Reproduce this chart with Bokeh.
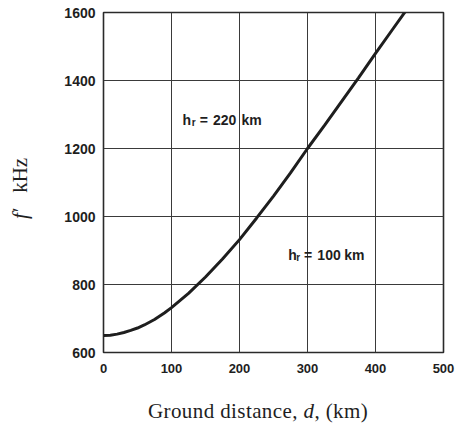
from bokeh.plotting import figure
from bokeh.models import Label, FixedTicker, Range1d, Div
from bokeh.layouts import row, column
from bokeh.embed import file_html
from bokeh.resources import INLINE

# data
distance_km = [0, 10, 20, 30, 40, 50, 60, 75, 90, 100, 125, 150, 175, 200, 225,
               250, 275, 300, 325, 350, 375, 400, 425, 445]
freq_khz = [650, 651, 654, 659, 665, 672, 681, 697, 717, 732, 774, 822, 875, 932,
            995, 1060, 1128, 1200, 1268, 1338, 1408, 1480, 1550, 1606]
x_ticks = [0, 100, 200, 300, 400, 500]
y_ticks = [600, 800, 1000, 1200, 1400, 1600]

INK = "#1e1e1e"

p = figure(width=410, height=395, frame_width=340, frame_height=340,
           min_border_left=58, min_border_right=12, min_border_top=12,
           min_border_bottom=43,
           x_range=Range1d(0, 500), y_range=Range1d(600, 1600),
           output_backend="svg", toolbar_location=None)

p.line(distance_km, freq_khz, line_width=3, line_color=INK)

p.outline_line_color = "#2a2a2a"
p.outline_line_width = 1.6
p.background_fill_color = "white"
p.border_fill_color = "white"

for ax, ticks, size, standoff in ((p.xaxis, x_ticks, "13px", 11), (p.yaxis, y_ticks, "14px", 8)):
    ax.ticker = FixedTicker(ticks=ticks)
    ax.axis_line_color = None
    ax.major_tick_line_color = None
    ax.minor_tick_line_color = None
    ax.major_tick_out = 0
    ax.major_tick_in = 0
    ax.major_label_text_font = "Liberation Sans"
    ax.major_label_text_font_style = "bold"
    ax.major_label_text_font_size = size
    ax.major_label_text_color = INK
    ax.major_label_standoff = standoff

p.xgrid.ticker = FixedTicker(ticks=x_ticks)
p.ygrid.ticker = FixedTicker(ticks=y_ticks)
for g in (p.xgrid, p.ygrid):
    g.grid_line_color = "#3a3a3a"
    g.grid_line_width = 1
    g.grid_line_alpha = 1.0


def add(text, x, y, size):
    p.add_layout(Label(x=x, y=y, text=text, text_font="Liberation Sans",
                       text_font_style="bold", text_font_size=size, text_color=INK,
                       text_align="left", text_baseline="alphabetic"))


# curve annotations
add("h", 116.0, 1285, "14px")
add("r", 129.7, 1276, "10px")
add("=", 141.5, 1285, "14px")
add("220", 161.0, 1285, "14px")
add("km", 203.0, 1285, "14px")
add("h", 271.6, 888, "14px")
add("r", 283.4, 879, "10px")
add("=", 295.0, 888, "14px")
add("100", 314.5, 888, "14px")
add("km", 354.0, 888, "14px")

SERIF = ("font-family:'Liberation Serif'; font-size:21px; line-height:21px; "
         "color:#1e1e1e; white-space:nowrap;")

ytitle = Div(width=45, height=395, margin=(0, 0, 0, 0),
             text=('<div style="height:0; margin-top:219px; margin-left:10px;">'
                   '<div style="transform:rotate(-90deg); transform-origin:0 0; ' + SERIF + '">'
                   '<i>f\u2032</i>&nbsp;&nbsp;&nbsp;kHz</div></div>'))

xtitle = Div(width=455, height=35, margin=(0, 0, 0, 0),
             text=('<div style="margin-top:6px; margin-left:148px; letter-spacing:0.4px; ' + SERIF + '">'
                   'Ground distance, <i>d</i>, (km)</div>'))

layout = column(row(ytitle, p, spacing=0), xtitle, spacing=0)

open("out.html", "w").write(file_html(layout, INLINE))
